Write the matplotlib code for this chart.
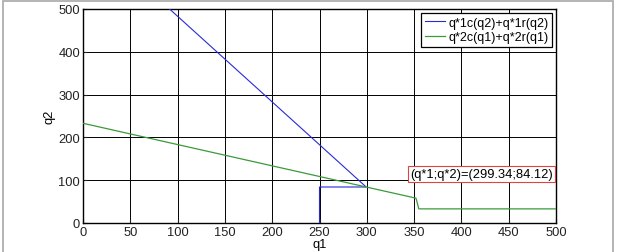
import matplotlib
matplotlib.use("Agg")
import matplotlib.pyplot as plt
from matplotlib.patches import Rectangle

# reaction curves
q1_blue = [250, 250, 299.34, 91.5]
q2_blue = [0, 84.12, 84.12, 500]
q1_green = [0, 299.34, 352, 355, 500]
q2_green = [233, 84.12, 58, 33, 33]
eq_label = '(q*1;q*2)=(299.34;84.12)'
ticks_x = [0, 50, 100, 150, 200, 250, 300, 350, 400, 450, 500]
ticks_y = [0, 100, 200, 300, 400, 500]

plt.rcParams['font.family'] = ['Liberation Sans', 'DejaVu Sans']

fig = plt.figure(figsize=(6.18, 2.53), dpi=100)
ax = fig.add_axes([83 / 618, 29 / 253, 473 / 618, 214 / 253])

ax.plot(q1_blue, q2_blue, color='#2a2ad8', lw=0.8, label='q*1c(q2)+q*1r(q2)', zorder=3)
ax.plot(q1_green, q2_green, color='#3a9a3a', lw=0.9, label='q*2c(q1)+q*2r(q1)', zorder=3)

ax.set_xlim(0, 500)
ax.set_ylim(0, 500)
ax.set_xticks(ticks_x)
ax.set_yticks(ticks_y)
ax.grid(True, color='black', lw=0.7, ls='-', zorder=1)
ax.tick_params(direction='in', length=3, labelsize=9.3, pad=2, colors='#222222')
for s in ax.spines.values():
    s.set_linewidth(1.0)
ax.set_xlabel('q1', fontsize=9.3, labelpad=0)
ax.set_ylabel('q2', fontsize=9.3, labelpad=2)

leg = ax.legend(loc='upper right', fontsize=9, handlelength=1.6, handletextpad=0.3,
                borderpad=0.3, labelspacing=0.2, borderaxespad=0.3, fancybox=False,
                framealpha=1)
leg.get_frame().set_edgecolor('black')
leg.get_frame().set_linewidth(0.9)

ax.text(497, 101, eq_label, ha='right', va='bottom', fontsize=9.3,
        bbox=dict(boxstyle='square,pad=0.15', fc='white', ec='#dd4444', lw=0.8))

# gray picture frame
fig.patches.append(Rectangle((3 / 618, -0.1), 610 / 618, 1.1 - 2 / 253,
                             transform=fig.transFigure, fill=False,
                             ec='#a8a8a8', lw=1.2))

fig.savefig('out.png', dpi=100)
